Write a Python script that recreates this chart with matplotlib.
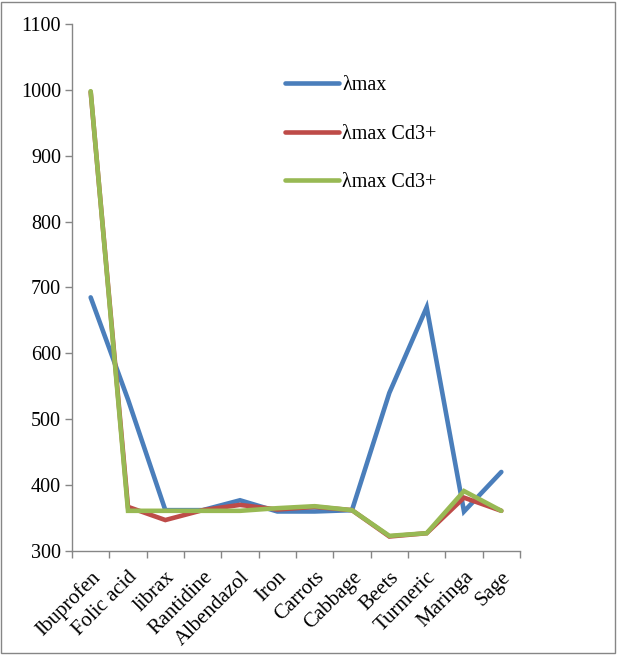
import matplotlib
matplotlib.use("Agg")
import matplotlib.pyplot as plt
from matplotlib.patches import Rectangle
import numpy as np

categories = ["Ibuprofen", "Folic acid", "librax", "Rantidine", "Albendazol", "Iron",
              "Carrots", "Cabbage", "Beets", "Turmeric", "Maringa", "Sage"]
lmax = [685, 530, 362, 362, 377, 360, 360, 362, 540, 670, 360, 420]
lmax_cd_red = [997, 367, 347, 362, 370, 363, 367, 362, 322, 327, 381, 361]
lmax_cd_green = [998, 361, 361, 361, 361, 365, 368, 362, 323, 327, 391, 361]
series_labels = ["λmax", "λmax Cd3+", "λmax Cd3+"]
colors = ["#4A7EBB", "#BE4B48", "#98B954"]
yticks = list(range(300, 1101, 100))

plt.rcParams["font.family"] = ["Liberation Serif", "DejaVu Serif"]

fig = plt.figure(figsize=(6.17, 6.55), dpi=100)
ax = fig.add_axes([72 / 617, 1 - 551 / 655, 448 / 617, 527 / 655])

x = np.arange(len(categories))
for vals, lab, col in zip([lmax, lmax_cd_red, lmax_cd_green], series_labels, colors):
    ax.plot(x, vals, color=col, lw=3.3, label=lab, solid_capstyle="round",
            solid_joinstyle="miter")

ax.set_xlim(-0.5, len(categories) - 0.5)
ax.set_ylim(300, 1100)
ax.set_yticks(yticks)
ax.set_yticklabels([str(t) for t in yticks], fontsize=14.5)
ax.set_xticks(x)
ax.set_xticklabels(categories, rotation=45, ha="right", rotation_mode="anchor", fontsize=15)
ax.set_xticks(np.arange(-0.5, len(categories)), minor=True)
ax.tick_params(axis="x", which="major", length=0, pad=12)
ax.tick_params(axis="x", which="minor", length=5, width=1, color="#868686", direction="out")
ax.tick_params(axis="y", length=5, width=1, color="#868686", direction="out", pad=3)

for side in ["top", "right"]:
    ax.spines[side].set_visible(False)
for side in ["left", "bottom"]:
    ax.spines[side].set_color("#868686")
    ax.spines[side].set_linewidth(1)

leg = ax.legend(loc="upper left", bbox_to_anchor=(0.475, 0.901), frameon=False,
                fontsize=14.5, handlelength=2.7, handletextpad=0.15, labelspacing=1.45,
                borderpad=0, borderaxespad=0)

fig.add_artist(Rectangle((0.002, 0.003), 0.994, 0.994, transform=fig.transFigure,
                         fill=False, edgecolor="#868686", lw=1))

fig.savefig("out.png", dpi=100)
